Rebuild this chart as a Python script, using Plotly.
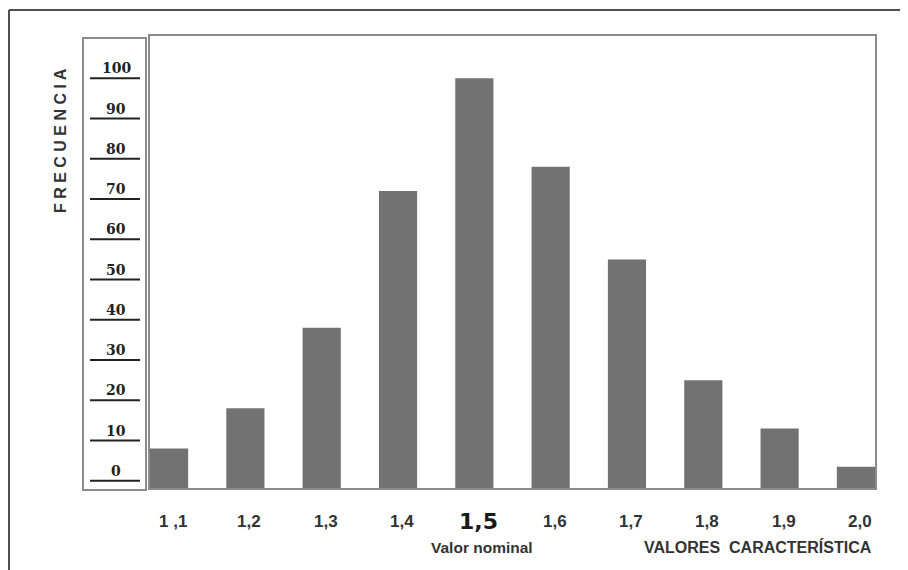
import plotly.graph_objects as go

# ---- data ----
categories = ["1,1", "1,2", "1,3", "1,4", "1,5", "1,6", "1,7", "1,8", "1,9", "2,0"]
tick_labels = ["1 ,1", "1,2", "1,3", "1,4", "1,5", "1,6", "1,7", "1,8", "1,9", "2,0"]
frequencies = [8, 18, 38, 72, 100, 78, 55, 25, 13, 3.5]
freq_ticks = [0, 10, 20, 30, 40, 50, 60, 70, 80, 90, 100]
nominal_value = "1,5"
y_title = "F R E C U E N C I A"
x_title = "VALORES  CARACTERÍSTICA"
nominal_title = "Valor nominal"

OFF = 8  # page body margin
W, H = 908 - OFF, 570 - OFF


def px(x):
    return (x - OFF) / W


def py(y):
    return 1 - (y - OFF) / H


y_range = [-1.8, 110.5]
bar_base = y_range[0]
bar_color = "#727272"
frame_gray = "#8c8c8c"

fig = go.Figure(
    go.Bar(
        x=categories,
        y=[f - bar_base for f in frequencies],
        base=bar_base,
        width=0.5,
        marker=dict(color=bar_color, line=dict(width=0)),
        hoverinfo="skip",
    )
)

shapes = []
annotations = []

# outer frame (top and left)
shapes.append(dict(type="line", xref="paper", yref="paper",
                   x0=px(9), x1=1.0, y0=py(10), y1=py(10),
                   line=dict(color="#505050", width=2)))
shapes.append(dict(type="line", xref="paper", yref="paper",
                   x0=px(9), x1=px(9), y0=py(10), y1=0.0,
                   line=dict(color="#505050", width=2)))

# y scale box
shapes.append(dict(type="rect", xref="paper", yref="paper",
                   x0=px(83), x1=px(146), y0=py(490), y1=py(38),
                   line=dict(color=frame_gray, width=2)))

# scale ticks and labels
for v in freq_ticks:
    shapes.append(dict(type="line", xref="paper", yref="y",
                       x0=px(90), x1=px(140), y0=v, y1=v,
                       line=dict(color="#222222", width=2)))
    annotations.append(dict(x=px(116), xref="paper", y=v, yref="y",
                            text=str(v), showarrow=False,
                            xanchor="center", yanchor="bottom", yshift=0,
                            font=dict(family="DejaVu Serif", size=14,
                                      color="#222222", weight="bold")))

# category labels
for cat, lab in zip(categories, tick_labels):
    if cat == nominal_value:
        font = dict(family="DejaVu Sans", size=22, color="#1a1a1a", weight="bold")
    else:
        font = dict(family="Liberation Sans", size=17, color="#333333", weight="bold")
    annotations.append(dict(x=cat, xref="x", y=py(521), yref="paper",
                            text=lab, showarrow=False, xshift=4,
                            xanchor="center", yanchor="middle", font=font))

annotations.append(dict(x=nominal_value, xref="x", y=py(547), yref="paper",
                        text=nominal_title, showarrow=False, xshift=8,
                        xanchor="center", yanchor="middle",
                        font=dict(family="Liberation Sans", size=15.5, color="#333333",
                                  weight="bold")))
annotations.append(dict(x=px(874), xref="paper", y=py(547), yref="paper",
                        text=x_title, showarrow=False,
                        xanchor="right", yanchor="middle",
                        font=dict(family="Liberation Sans", size=16, color="#333333",
                                  weight="bold")))
annotations.append(dict(x=px(61), xref="paper", y=py(141), yref="paper",
                        text=y_title, showarrow=False, textangle=-90,
                        xanchor="center", yanchor="middle",
                        font=dict(family="Liberation Sans", size=16, color="#333333",
                                  weight="bold")))

fig.update_layout(
    width=W, height=H,
    margin=dict(l=0, r=0, t=0, b=0),
    paper_bgcolor="white", plot_bgcolor="white",
    showlegend=False,
    bargap=0.5,
    shapes=shapes,
    annotations=annotations,
    xaxis=dict(domain=[px(150), px(875)], range=[-0.25, 9.25],
               type="category", showticklabels=False, ticks="",
               showgrid=False, zeroline=False,
               showline=True, mirror=True, linecolor=frame_gray, linewidth=2),
    yaxis=dict(domain=[py(488), py(36)], range=y_range,
               showticklabels=False, ticks="", showgrid=False, zeroline=False,
               showline=True, mirror=True, linecolor=frame_gray, linewidth=2),
)

fig.write_html("out.html")
